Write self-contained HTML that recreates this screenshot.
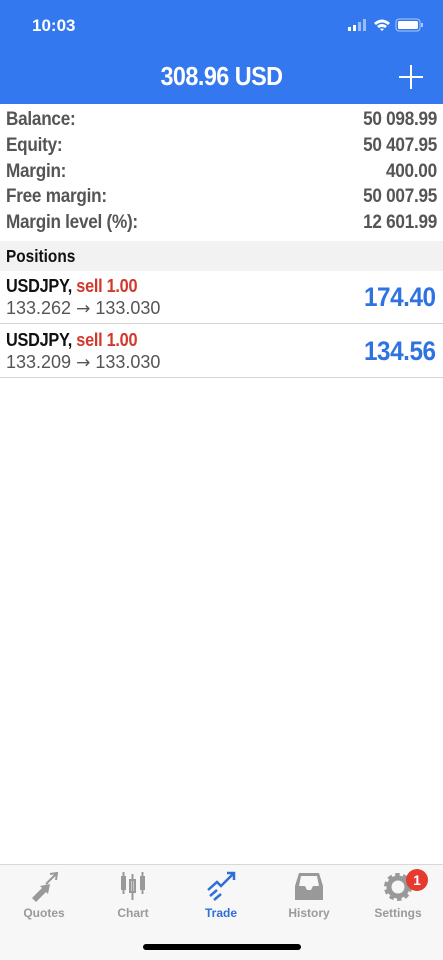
<!DOCTYPE html>
<html><head><meta charset="utf-8"><style>
*{margin:0;padding:0;box-sizing:border-box}
body{width:443px;height:960px;background:#fff;font-family:"Liberation Sans",sans-serif;position:relative;overflow:hidden}
.abs{position:absolute}
#hdr{left:0;top:0;width:443px;height:104px;background:#3478f0;color:#fff}
.row{position:absolute;left:0;width:443px;height:26px;font-weight:bold;font-size:19.5px;color:#555;letter-spacing:-0.3px}
.row .l{position:absolute;left:6px;top:1px;transform:scaleX(.88);transform-origin:left}
.row .r{position:absolute;right:6px;top:1px;transform:scaleX(.88);transform-origin:right}
.pos{position:absolute;left:0;width:443px;height:53px;border-bottom:1px solid #d4d4d4}
.pos .t{position:absolute;left:6px;top:4px;font-weight:bold;font-size:18.5px;color:#111;letter-spacing:-0.3px;transform:scaleX(.88);transform-origin:left}
.pos .t span{color:#d2392c}
.pos .p{position:absolute;left:6px;top:27px;font-size:18px;color:#555}
.pos .p b{font-weight:normal;font-family:"DejaVu Sans",sans-serif;font-size:17px}
.pos .v{position:absolute;right:7px;top:11px;font-weight:bold;font-size:27px;color:#2f73e0;letter-spacing:-0.5px;transform:scaleX(.9);transform-origin:right}
.tab{position:absolute;top:870px;width:88px;text-align:center;font-weight:bold;font-size:12px;color:#9a9a9a}
.tab svg{display:block;margin:0 auto 4px}
</style></head><body>
<div id="hdr" class="abs">
 <div class="abs" style="left:32px;top:16px;font-weight:bold;font-size:17px">10:03</div>
 <svg class="abs" style="left:348px;top:18px" width="80" height="16">
  <rect x="0" y="9" width="3" height="4" fill="#fff"/><rect x="5" y="7" width="3" height="6" fill="#fff"/><rect x="10" y="4" width="3" height="9" fill="#fff" opacity=".5"/><rect x="15" y="1" width="3" height="12" fill="#fff" opacity=".5"/>
  <path d="M26 5 Q34 -2 42 5 L40 7 Q34 2 28 7Z M29 8 Q34 4 39 8 L37 10 Q34 8 31 10Z M32 11 L34 13 L36 11 Q34 10 32 11Z" fill="#fff"/>
  <rect x="48" y="1" width="24" height="12" rx="3" fill="none" stroke="#fff" stroke-width="1" opacity=".6"/><rect x="50" y="3" width="20" height="8" rx="1.5" fill="#fff"/><rect x="73" y="5" width="2" height="4" fill="#fff" opacity=".6"/>
 </svg>
 <div class="abs" style="left:0;width:443px;top:61px;text-align:center;font-weight:bold;font-size:26px;letter-spacing:-0.6px;transform:scaleX(.9)">308.96 USD</div>
 <div class="abs" style="left:399px;top:65px;width:24px;height:24px">
  <div class="abs" style="left:11px;top:0;width:2px;height:24px;background:#fff"></div><div class="abs" style="left:0;top:11px;width:24px;height:2px;background:#fff"></div>
 </div>
</div>
<div class="row" style="top:107px"><span class="l">Balance:</span><span class="r">50 098.99</span></div>
<div class="row" style="top:133px"><span class="l">Equity:</span><span class="r">50 407.95</span></div>
<div class="row" style="top:159px"><span class="l">Margin:</span><span class="r">400.00</span></div>
<div class="row" style="top:184px"><span class="l">Free margin:</span><span class="r">50 007.95</span></div>
<div class="row" style="top:210px"><span class="l">Margin level (%):</span><span class="r">12 601.99</span></div>
<div class="abs" style="left:0;top:241px;width:443px;height:30px;background:#f2f2f2"><div class="abs" style="left:6px;top:5px;font-weight:bold;font-size:17.5px;color:#111;transform:scaleX(.88);transform-origin:left">Positions</div></div>
<div class="pos" style="top:271px"><div class="t">USDJPY, <span>sell 1.00</span></div><div class="p">133.262 <b>→</b> 133.030</div><div class="v">174.40</div></div>
<div class="pos" style="top:325px"><div class="t">USDJPY, <span>sell 1.00</span></div><div class="p">133.209 <b>→</b> 133.030</div><div class="v">134.56</div></div>
<div class="abs" style="left:0;top:864px;width:443px;height:96px;background:#f7f7f7;border-top:1px solid #d8d8d8"></div>
<div class="tab" style="left:0"><svg width="32" height="32"><path d="M4 28 L14 18 L12 16 L22 14 L20 24 L18 22 L8 32Z" fill="#999"/><path d="M18 14 L28 4 M22 4 L29 3 L28 10" stroke="#999" stroke-width="2" fill="none"/></svg>Quotes</div>
<div class="tab" style="left:89px"><svg width="32" height="32"><rect x="4" y="6" width="5" height="14" fill="#999"/><line x1="6.5" y1="2" x2="6.5" y2="24" stroke="#999" stroke-width="2"/><rect x="13" y="10" width="5" height="12" fill="none" stroke="#999" stroke-width="2"/><line x1="15.5" y1="4" x2="15.5" y2="30" stroke="#999" stroke-width="2"/><rect x="23" y="6" width="5" height="14" fill="#999"/><line x1="25.5" y1="2" x2="25.5" y2="24" stroke="#999" stroke-width="2"/></svg>Chart</div>
<div class="tab" style="left:177px;color:#2f6fd8"><svg width="32" height="32"><path d="M3 20 L12 12 L16 16 L28 4 M22 3 L29 3 L29 10" stroke="#2f6fd8" stroke-width="2.5" fill="none"/><path d="M5 26 L12 20 M9 30 L16 24" stroke="#2f6fd8" stroke-width="2.5"/></svg>Trade</div>
<div class="tab" style="left:265px"><svg width="32" height="32"><path d="M6 3 H26 L30 16 V30 H2 V16Z" fill="#999"/><path d="M6 16 H12 L14 20 H18 L20 16 H26 L24 6 H8Z" fill="#f7f7f7"/></svg>History</div>
<div class="tab" style="left:354px"><svg width="32" height="32"><circle cx="16" cy="17" r="11" fill="none" stroke="#999" stroke-width="6" stroke-dasharray="4 3"/><circle cx="16" cy="17" r="9" fill="none" stroke="#999" stroke-width="5"/></svg>Settings</div>
<div class="abs" style="left:406px;top:869px;width:22px;height:22px;border-radius:11px;background:#e53a30;color:#fff;font-weight:bold;font-size:14px;text-align:center;line-height:22px">1</div>
<div class="abs" style="left:143px;top:944px;width:158px;height:6px;border-radius:3px;background:#000"></div>
</body></html>
